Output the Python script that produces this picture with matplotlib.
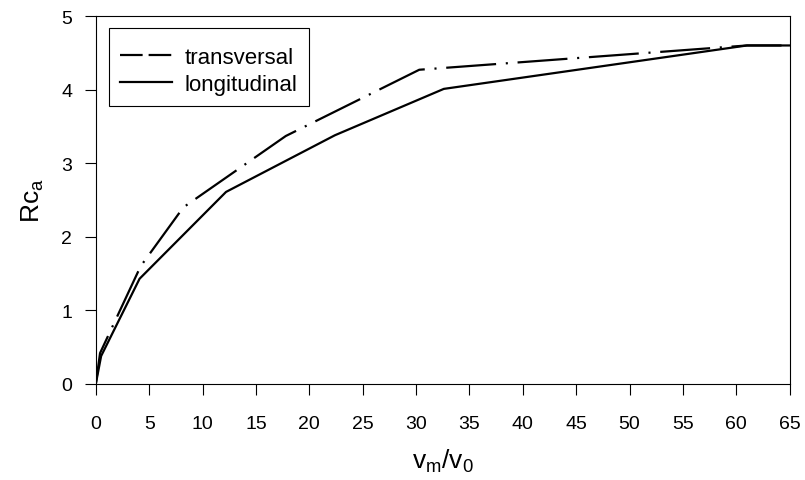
import matplotlib
matplotlib.use('Agg')
import matplotlib.pyplot as plt
from matplotlib.lines import Line2D
from matplotlib.patches import Rectangle

# Datos
trans_x = [0, 0.4, 4.2, 8.2, 17.8, 30.3, 61, 65]
trans_y = [0, 0.42, 1.6, 2.4, 3.37, 4.27, 4.6, 4.6]
long_x = [0, 0.5, 4.1, 12.2, 22.4, 32.6, 61, 65]
long_y = [0, 0.38, 1.43, 2.61, 3.38, 4.01, 4.6, 4.6]

x_ticks = list(range(0, 70, 5))
y_ticks = [0, 1, 2, 3, 4, 5]

plt.rcParams['font.family'] = ['Liberation Sans', 'DejaVu Sans']
plt.rcParams['mathtext.fontset'] = 'custom'
plt.rcParams['mathtext.rm'] = 'Liberation Sans'
plt.rcParams['lines.scale_dashes'] = False

fig = plt.figure(figsize=(8.05, 4.81), dpi=100)
ax = fig.add_axes([0.119, 0.1996, 0.862, 0.765])

ax.plot(trans_x, trans_y, color='black', lw=1.6, dashes=(36, 7, 1.5, 7))
ax.plot(long_x, long_y, color='black', lw=1.6)

ax.set_xlim(0, 65)
ax.set_ylim(0, 5)
ax.set_xticks(x_ticks)
ax.set_yticks(y_ticks)
ax.tick_params(axis='both', direction='out', length=8, width=0.8, labelsize=14)
ax.tick_params(axis='x', pad=14)
ax.tick_params(axis='y', pad=9)
for s in ax.spines.values():
    s.set_linewidth(0.8)

ax.set_xlabel(r'$\mathregular{v_m/v_0}$', fontsize=19, labelpad=11)
ax.set_ylabel(r'$\mathregular{Rc_a}$', fontsize=19, labelpad=11)

# Marco de la leyenda (mas alto que el de matplotlib)
ax.add_patch(Rectangle((13 / 694, 278 / 368), 200 / 694, 78 / 368,
                       transform=ax.transAxes, fill=False,
                       edgecolor='black', lw=0.8, zorder=4))

handles = [Line2D([], [], color='black', lw=1.6, dashes=(16.3, 4.3)),
           Line2D([], [], color='black', lw=1.6)]
leg = ax.legend(handles, ['transversal', 'longitudinal'], loc='upper left',
                bbox_to_anchor=(24.7 / 694, 1 - 31 / 368), borderaxespad=0,
                borderpad=0, frameon=False, fontsize=16, handlelength=2.3,
                labelspacing=0.28, handletextpad=0.6)

plt.savefig('out.png', dpi=100)
